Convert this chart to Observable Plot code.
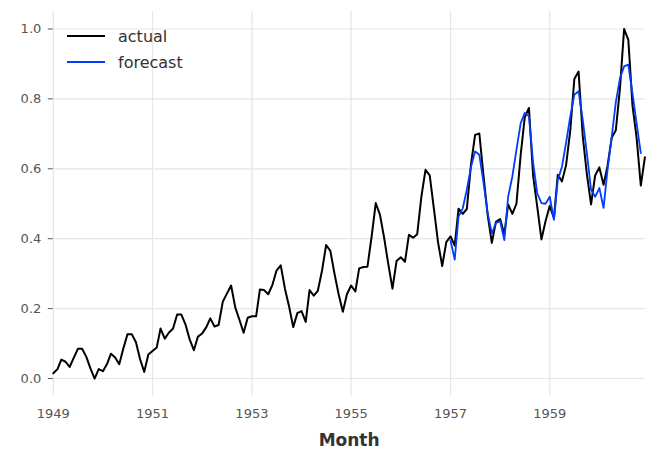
<!DOCTYPE html>
<html>
<head>
<meta charset="utf-8">
<script src="https://cdn.jsdelivr.net/npm/d3@7"></script>
<script src="https://cdn.jsdelivr.net/npm/@observablehq/plot@0.6"></script>
<style>
  html, body { margin: 0; padding: 0; background: #fff; }
  #wrap { position: relative; width: 669px; height: 468px; font-family: "DejaVu Sans", sans-serif; }
  .leg { position: absolute; left: 67px; display: flex; align-items: center; font-size: 16px; color: #333; }
  .leg span.sw { display: inline-block; width: 38px; height: 2px; margin-right: 13px; }
</style>
</head>
<body>
<div id="wrap"></div>
<script>
// Normalized monthly values, 1949-01 .. 1960-12
const actualStart = "1949-01-01";
const actual = [
  0.015,0.027,0.054,0.048,0.033,0.060,0.085,0.085,0.062,0.029,0.000,0.027,
  0.021,0.042,0.071,0.060,0.041,0.087,0.127,0.127,0.104,0.056,0.019,0.069,
  0.079,0.089,0.143,0.114,0.131,0.143,0.183,0.183,0.154,0.112,0.081,0.120,
  0.129,0.147,0.172,0.149,0.153,0.220,0.243,0.266,0.203,0.168,0.131,0.174,
  0.178,0.178,0.255,0.253,0.241,0.268,0.309,0.324,0.257,0.207,0.147,0.187,
  0.193,0.162,0.253,0.237,0.251,0.309,0.382,0.365,0.299,0.241,0.191,0.241,
  0.266,0.249,0.315,0.319,0.320,0.407,0.502,0.469,0.402,0.328,0.257,0.336,
  0.347,0.334,0.411,0.403,0.413,0.521,0.597,0.581,0.485,0.390,0.322,0.390,
  0.407,0.380,0.486,0.471,0.485,0.614,0.697,0.701,0.579,0.469,0.388,0.448,
  0.456,0.413,0.498,0.471,0.500,0.639,0.747,0.774,0.579,0.492,0.398,0.450,
  0.494,0.459,0.583,0.564,0.610,0.710,0.857,0.878,0.693,0.585,0.498,0.581,
  0.604,0.554,0.608,0.689,0.710,0.832,1.000,0.969,0.780,0.689,0.552,0.633
];
// Forecast, 1957-01 .. 1960-11
const forecastStart = "1957-01-01";
const forecast = [
  0.395,0.340,0.463,0.487,0.540,0.606,0.650,0.640,0.560,0.474,0.415,0.445,
  0.450,0.396,0.520,0.578,0.654,0.730,0.760,0.750,0.617,0.530,0.502,0.500,
  0.520,0.454,0.568,0.606,0.674,0.750,0.812,0.822,0.740,0.645,0.540,0.520,
  0.545,0.488,0.597,0.692,0.790,0.860,0.893,0.898,0.815,0.730,0.645
];
const xTickYears = [1949, 1951, 1953, 1955, 1957, 1959];
const yTicks = [0.0, 0.2, 0.4, 0.6, 0.8, 1.0];
const seriesNames = ["actual", "forecast"];
const seriesColors = ["#000000", "#003DFD"];

const toRows = (start, vals) => {
  const s = new Date(start);
  return vals.map((v, i) => ({date: d3.utcMonth.offset(s, i), value: v}));
};
const actualRows = toRows(actualStart, actual);
const forecastRows = toRows(forecastStart, forecast);
const xTicks = xTickYears.map(y => new Date(Date.UTC(y, 0, 1)));

const chart = Plot.plot({
  width: 669,
  height: 468,
  marginLeft: 52.8,
  marginRight: 24.6,
  marginTop: 11,
  marginBottom: 72.5,
  style: {fontFamily: "DejaVu Sans, sans-serif", background: "#fff"},
  x: {type: "utc", domain: [actualRows[0].date, actualRows[actualRows.length - 1].date]},
  y: {domain: [-0.05, 1.05]},
  marks: [
    Plot.gridX(xTicks, {stroke: "#e5e5e5", strokeOpacity: 1, strokeWidth: 1.2}),
    Plot.gridY(yTicks, {stroke: "#e5e5e5", strokeOpacity: 1, strokeWidth: 1.2}),
    Plot.axisY(yTicks, {tickSize: 5, tickPadding: 7, tickFormat: d3.format(".1f"), fontSize: 13, fill: "#555", stroke: "#555", label: null}),
    Plot.axisX(xTicks, {tickSize: 0, tickPadding: 13, tickFormat: d => String(d.getUTCFullYear()), fontSize: 13, fill: "#555", label: null}),
    Plot.text(["Month"], {frameAnchor: "bottom", dy: 45, text: d => d, fontSize: 17, fontWeight: "bold", fill: "#333", lineAnchor: "middle"}),
    Plot.line(actualRows, {x: "date", y: "value", stroke: seriesColors[0], strokeWidth: 2}),
    Plot.line(forecastRows, {x: "date", y: "value", stroke: seriesColors[1], strokeWidth: 1.8})
  ]
});
const wrap = document.getElementById("wrap");
wrap.appendChild(chart);
const legTops = [36, 62];
seriesNames.forEach((name, i) => {
  const d = document.createElement("div");
  d.className = "leg";
  d.style.top = (legTops[i] - 11) + "px";
  d.style.height = "22px";
  const sw = document.createElement("span");
  sw.className = "sw";
  sw.style.background = seriesColors[i];
  d.appendChild(sw);
  d.appendChild(document.createTextNode(name));
  wrap.appendChild(d);
});
</script>
</body>
</html>
